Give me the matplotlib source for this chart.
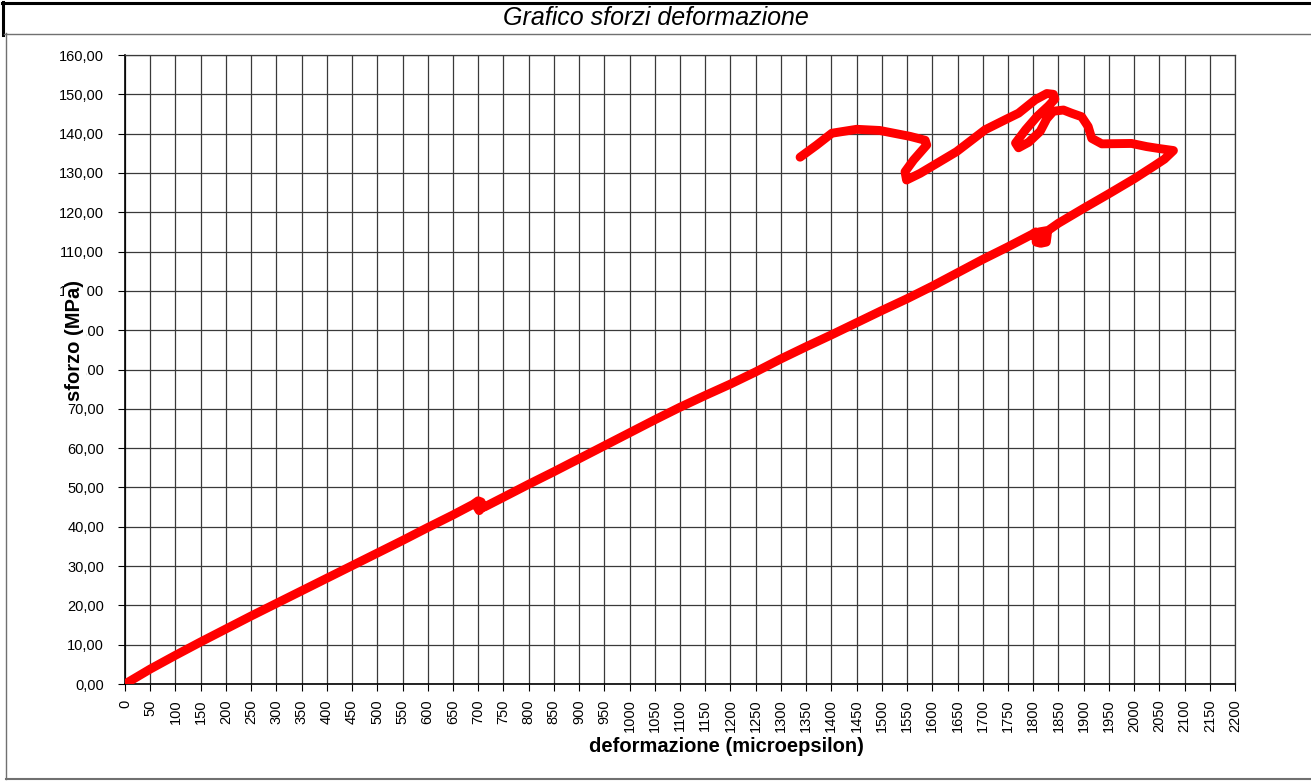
"""
Grafico sforzi deformazione - stress/strain curve.
"""
import matplotlib
matplotlib.use('Agg')
import matplotlib.pyplot as plt
from matplotlib.lines import Line2D
from matplotlib.ticker import MultipleLocator, FuncFormatter

plt.rcParams['font.family'] = ['Liberation Sans', 'DejaVu Sans']

# deformazione (microepsilon), loading branch
strain_load = [0, 25, 50, 100, 150, 200, 250, 300, 350, 400, 450, 500, 550, 600,
               650, 690, 700, 706, 707, 702, 698, 704, 712, 750, 800, 850, 900,
               950, 1000, 1050, 1100, 1150, 1200, 1250, 1300, 1350, 1400, 1450,
               1500, 1550, 1600, 1650, 1700, 1750, 1798, 1805, 1806, 1815, 1826,
               1828, 1818, 1808, 1812, 1830, 1850, 1900, 1950, 2000, 2040, 2060, 2078]
# sforzo (MPa), loading branch
stress_load = [0.0, 1.9, 3.8, 7.3, 10.7, 14.0, 17.3, 20.5, 23.7, 26.9, 30.1, 33.3,
               36.5, 39.8, 43.0, 45.7, 46.6, 46.3, 44.8, 44.1, 45.0, 45.4, 45.0,
               47.5, 50.8, 54.0, 57.3, 60.6, 63.9, 67.2, 70.4, 73.4, 76.3, 79.4,
               82.7, 85.8, 88.8, 91.9, 95.0, 98.0, 101.2, 104.6, 108.0, 111.2,
               114.4, 115.0, 112.4, 112.1, 112.4, 114.4, 114.0, 113.4, 115.0, 115.4,
               117.2, 121.0, 124.7, 128.5, 131.8, 133.5, 135.7]

# upper (post-peak) branch
strain_top = [2050, 2025, 1995, 1936, 1916, 1909, 1896, 1876, 1860, 1840, 1827,
              1814, 1791, 1771, 1765, 1785, 1808, 1830, 1843, 1840, 1827, 1804,
              1771, 1744, 1705, 1648, 1576, 1549, 1546, 1563, 1589, 1586, 1556,
              1496, 1450, 1401, 1371, 1338]
stress_top = [136.2, 136.7, 137.5, 137.4, 138.8, 141.8, 144.3, 145.2, 146.0, 145.7,
              143.8, 140.6, 137.8, 136.4, 137.6, 141.0, 144.4, 147.0, 148.8, 150.0,
              150.2, 148.6, 145.2, 143.5, 141.0, 135.4, 129.9, 128.2, 130.3, 133.3,
              137.1, 138.3, 139.3, 140.8, 141.1, 140.1, 137.1, 134.0]

strain = strain_load + strain_top
stress = stress_load + stress_top

fig = plt.figure(figsize=(13.11, 7.83), dpi=100)
ax = fig.add_axes([125 / 1311, 1 - 684 / 783, 1110 / 1311, 629 / 783])

ax.plot(strain, stress, color='#ff0000', linewidth=6.4,
        solid_capstyle='round', solid_joinstyle='round', zorder=3)

ax.set_xlim(0, 2200)
ax.set_ylim(0, 160)
ax.xaxis.set_major_locator(MultipleLocator(50))
ax.yaxis.set_major_locator(MultipleLocator(10))
ax.yaxis.set_major_formatter(FuncFormatter(lambda v, p: f'{v:.2f}'.replace('.', ',')))
ax.xaxis.set_major_formatter(FuncFormatter(lambda v, p: f'{v:.0f}'))
ax.tick_params(axis='x', labelrotation=90, labelsize=10.5, direction='out', length=5, pad=6)
ax.tick_params(axis='y', labelsize=10.5, direction='out', length=5, pad=10)
ax.grid(True, color='#3a3a3a', linewidth=0.9)
ax.set_axisbelow(True)

for side in ('top', 'right'):
    ax.spines[side].set_color('#3a3a3a')
    ax.spines[side].set_linewidth(0.9)
for side in ('left', 'bottom'):
    ax.spines[side].set_color('black')
    ax.spines[side].set_linewidth(1.2)

# axis labels (placed like the original sheet)
fig.text(726 / 1311, 1 - 747 / 783, 'deformazione (microepsilon)',
         ha='center', va='center', fontsize=14.5, fontweight='bold')
fig.text(75 / 1311, 1 - 340 / 783, 'sforzo (MPa)', rotation=90,
         ha='center', va='center', fontsize=14.5, fontweight='bold',
         bbox=dict(facecolor='white', edgecolor='none', pad=1.0), zorder=5)

# title bar
fig.text(0.5, 1 - 18 / 783, 'Grafico sforzi deformazione', ha='center', va='center',
         fontsize=18, fontstyle='italic')

def px_line(xs, ys, color, lw):
    fig.add_artist(Line2D([x / 1311 for x in xs], [1 - y / 783 for y in ys],
                          color=color, linewidth=lw, transform=fig.transFigure))

px_line([2, 1311], [2.5, 2.5], 'black', 2.2)
px_line([3, 3], [2, 35], 'black', 2.2)
px_line([4, 1311], [33.5, 33.5], '#707070', 1.0)
px_line([6.5, 6.5], [33, 779], '#707070', 1.0)
px_line([6, 1311], [779, 779], '#707070', 1.5)

plt.savefig('out.png', dpi=100)
plt.close()
